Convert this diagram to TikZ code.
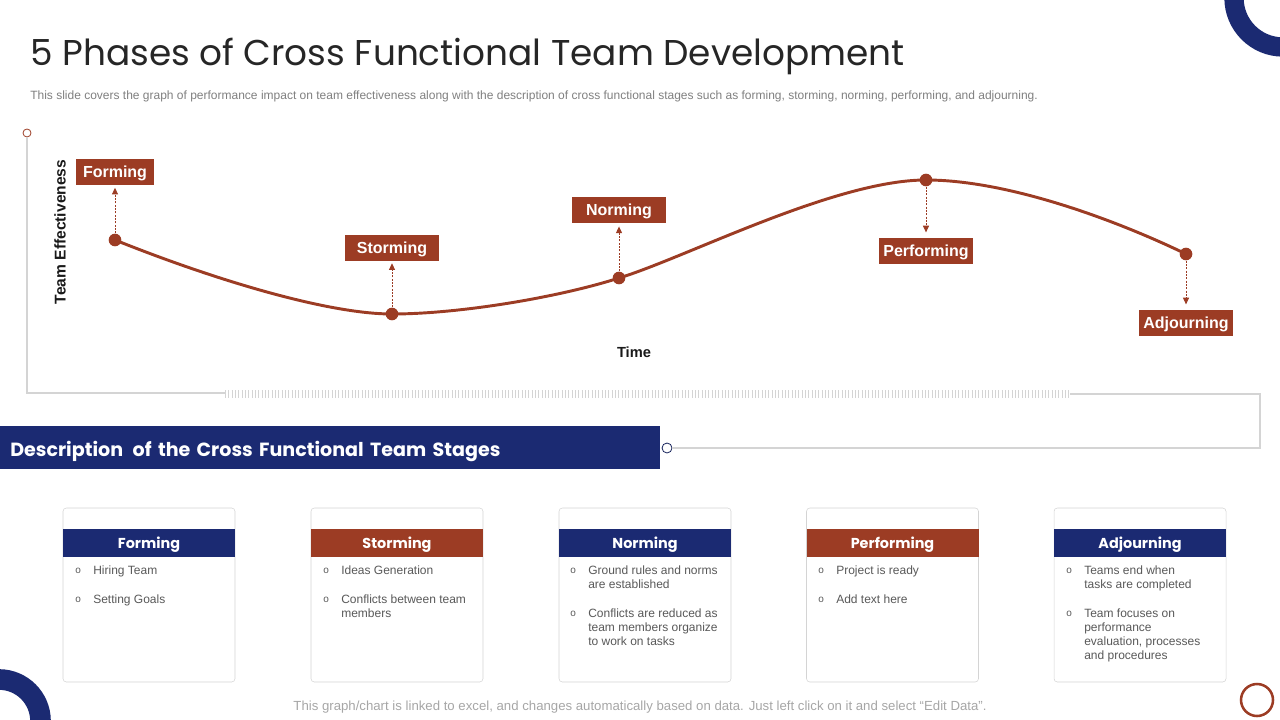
\documentclass[tikz,border=0pt]{standalone}
\usepackage{fontspec}
\setmainfont{Liberation Sans}
\newfontfamily\geo{Poppins}
\usetikzlibrary{arrows.meta}
\definecolor{brn}{RGB}{156,60,36}
\definecolor{navy}{RGB}{27,42,114}
\definecolor{framegray}{RGB}{212,212,212}
\definecolor{txtgray}{RGB}{89,89,89}
\definecolor{subgray}{RGB}{127,127,127}
\definecolor{footgray}{RGB}{166,166,166}
\definecolor{titlegray}{RGB}{38,38,38}
\newcommand\bl{\raisebox{0.6pt}{\fontsize{7.5}{7.5}\selectfont o}}
\newcommand\cardbody[1]{{\fontsize{9}{10.5}\selectfont\color{txtgray}\begin{tabular}[t]{@{}p{13.5pt}@{}l@{}}#1\end{tabular}}}
\tikzset{
  lab/.style={fill=brn, text=white, font=\bfseries\fontsize{12}{14}\selectfont, minimum height=19.5pt, minimum width=71pt, inner sep=0, text height=8pt, text depth=0pt},
  dot/.style={circle, fill=brn, minimum size=9.5pt, inner sep=0},
  darr/.style={brn, line width=0.7pt, dash pattern=on 1.5pt off 1pt, -{Triangle[length=5pt,width=4.5pt]}},
  curv/.style={brn, line width=2.2pt},
  frame/.style={framegray, line width=0.8pt},
  card/.style={draw=framegray, fill=white, rounded corners=2.5pt, minimum width=129pt, minimum height=130.5pt, inner sep=0},
  hdr/.style={text=white, font=\geo\bfseries\fontsize{10.8}{13}\selectfont, minimum width=129pt, minimum height=21pt, inner sep=0, text height=9.5pt, text depth=0pt},
  body/.style={anchor=base west, inner sep=0},
  axl/.style={font=\bfseries\fontsize{11}{13}\selectfont, text=black!90, inner sep=0}
}
\begin{document}
\begin{tikzpicture}[x=0.75pt,y=-0.75pt]
\useasboundingbox (0,0) rectangle (1280,720);
% corner decorations
\begin{scope}
\clip (0,0) rectangle (1280,720);
\draw[navy, line width=14.5pt] (1283,-2) circle[radius=49];
\draw[navy, line width=15.5pt] (-1,721) circle[radius=41.5];
\end{scope}
\draw[brn, line width=1.9pt] (1257,700) circle[radius=16];
% title
\node[anchor=base west, inner sep=0, text=titlegray, font=\geo\fontsize{26.9}{31}\selectfont] (title) at (30,66) {5 Phases of Cross Functional Team Development};
\node[anchor=base west, inner sep=0, text=subgray, font=\fontsize{9}{11}\selectfont] (sub) at (30,100) {This slide covers the graph of performance impact on team effectiveness along with the description of cross functional stages such as forming, storming, norming, performing, and adjourning.};
% chart frame
\node[circle, draw=brn, line width=0.6pt, minimum size=6pt, inner sep=0] (ax) at (27,133) {};
\node[circle, draw=navy!80!black, line width=0.6pt, minimum size=7.5pt, inner sep=0, fill=white] (cr) at (667,448) {};
\draw[frame] (ax.south) -- (27,393) -- (225,393);
\draw[framegray, line width=6pt, dash pattern=on 0.6pt off 1.9pt] (225,393.5) -- (1070,393.5);
\draw[frame] (1070,394) -- (1260,394) -- (1260,448) -- (cr.east);
% axis labels
\node[axl, rotate=90, font=\bfseries\fontsize{11.7}{13}\selectfont] (yl) at (60,232) {Team Effectiveness};
\node[axl] (xl) at (634,352) {Time};
% curve dots
\node[dot] (dF) at (115,240) {};
\node[dot] (dS) at (392,314) {};
\node[dot] (dN) at (619,278) {};
\node[dot] (dP) at (926,180) {};
\node[dot] (dA) at (1186,254) {};
\draw[curv] (dF.center) .. controls (220,282) and (330,314) .. (dS.center)
  .. controls (460,314) and (560,297) .. (dN.center)
  .. controls (685,258) and (835,180) .. (dP.center)
  .. controls (1010,180) and (1120,222) .. (dA.center);
% labels
\node[lab, minimum width=59pt] (lF) at (115,172.5) {Forming};
\node[lab] (lS) at (392,248) {Storming};
\node[lab] (lN) at (619,210.5) {Norming};
\node[lab] (lP) at (926,251) {Performing};
\node[lab] (lA) at (1186,323) {Adjourning};
\draw[darr] (dF.north) -- ([yshift=-1.5pt]lF.south);
\draw[darr] (dS.north) -- ([yshift=-1.5pt]lS.south);
\draw[darr] (dN.north) -- ([yshift=-2pt]lN.south);
\draw[darr] (dP.south) -- ([yshift=4pt]lP.north);
\draw[darr] (dA.south) -- ([yshift=4pt]lA.north);
% banner
\node[fill=navy, anchor=north west, minimum height=32.25pt, text width=480pt, inner xsep=7.5pt, inner ysep=0, align=left, text=white, font=\geo\bfseries\fontsize{14.3}{16}\selectfont, text height=13pt, text depth=0pt] (banner) at (0,426) {Description\, of the Cross Functional Team Stages};
% cards
\node[card] (c1) at (149,595) {};
\node[card] (c2) at (397,595) {};
\node[card] (c3) at (645,595) {};
\node[card] (c4) at (892.5,595) {};
\node[card] (c5) at (1140,595) {};
\node[hdr, fill=navy] (h1) at (149,542.5) {Forming};
\node[hdr, fill=brn] (h2) at (397,542.5) {Storming};
\node[hdr, fill=navy] (h3) at (645,542.5) {Norming};
\node[hdr, fill=brn] (h4) at (892.5,542.5) {Performing};
\node[hdr, fill=navy] (h5) at (1140,542.5) {Adjourning};
\node[body] (b1) at (75,574.5) {\cardbody{\bl & Hiring Team\\[11.25pt] \bl & Setting Goals}};
\node[body] (b2) at (323,574.5) {\cardbody{\bl & Ideas Generation\\[11.25pt] \bl & Conflicts between team\\ & members}};
\node[body] (b3) at (570,574.5) {\cardbody{\bl & Ground rules and norms\\ & are established\\[11.25pt] \bl & Conflicts are reduced as\\ & team members organize\\ & to work on tasks}};
\node[body] (b4) at (818,574.5) {\cardbody{\bl & Project is ready\\[11.25pt] \bl & Add text here}};
\node[body] (b5) at (1066,574.5) {\cardbody{\bl & Teams end when\\ & tasks are completed\\[11.25pt] \bl & Team focuses on\\ & performance\\ & evaluation, processes\\ & and procedures}};
% footer
\node[inner sep=0, text=footgray, font=\fontsize{9.9}{11}\selectfont] (foot) at (640,707) {This graph/chart is linked to excel, and changes automatically based on data. Just left click on it and select “Edit Data”.};
\end{tikzpicture}
\end{document}
